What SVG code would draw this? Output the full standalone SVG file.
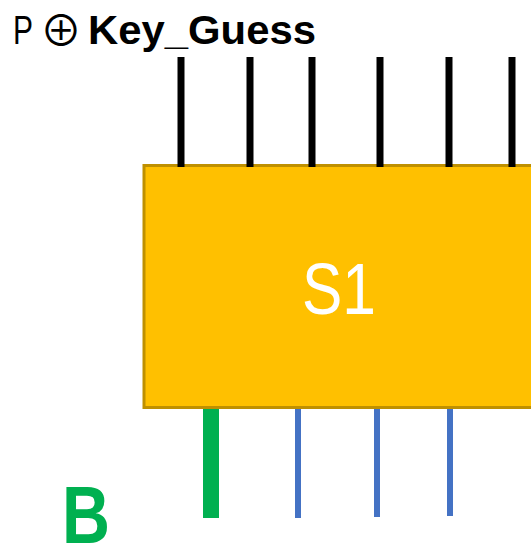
<svg xmlns="http://www.w3.org/2000/svg" width="531" height="553" viewBox="0 0 531 553">
<style>
.in{stroke:#000;stroke-width:7;}
.out{stroke:#4472C4;stroke-width:6;}
.sans{font-family:"Liberation Sans",Arial,sans-serif;}
</style>
<rect width="531" height="553" fill="#fff"/>
<g id="title">
<text class="sans" x="13" y="44" font-size="40" textLength="20" lengthAdjust="spacingAndGlyphs">P</text>
<text x="40" y="46" font-family="'Noto Sans CJK JP','DejaVu Sans',sans-serif" font-size="42">⊕</text>
<text class="sans" x="88" y="44" font-size="40" font-weight="bold" textLength="228" lengthAdjust="spacingAndGlyphs">Key_Guess</text>
</g>
<g id="S1">
<rect x="144" y="165.5" width="400" height="242" fill="#FFC000" stroke="#BF9000" stroke-width="3"/>
<text class="sans" x="339" y="314" font-size="72" fill="#fff" text-anchor="middle" textLength="74" lengthAdjust="spacingAndGlyphs">S1</text>
</g>
<g id="connectors">
<line class="in" x1="181" y1="57" x2="181" y2="167"/>
<line class="in" x1="250" y1="57" x2="250" y2="167"/>
<line class="in" x1="312" y1="57" x2="312" y2="167"/>
<line class="in" x1="380" y1="57" x2="380" y2="167"/>
<line class="in" x1="449" y1="57" x2="449" y2="167"/>
<line class="in" x1="512" y1="57" x2="512" y2="167"/>
<line x1="211" y1="409" x2="211" y2="518" stroke="#00B050" stroke-width="16"/>
<line class="out" x1="298" y1="409" x2="298" y2="518"/>
<line class="out" x1="377" y1="409" x2="377" y2="517"/>
<line class="out" x1="450" y1="409" x2="450" y2="516"/>
</g>
<g id="B">
<text class="sans" x="62" y="543" font-size="81" font-weight="bold" fill="#00B050" textLength="48" lengthAdjust="spacingAndGlyphs">B</text>
</g>
</svg>
